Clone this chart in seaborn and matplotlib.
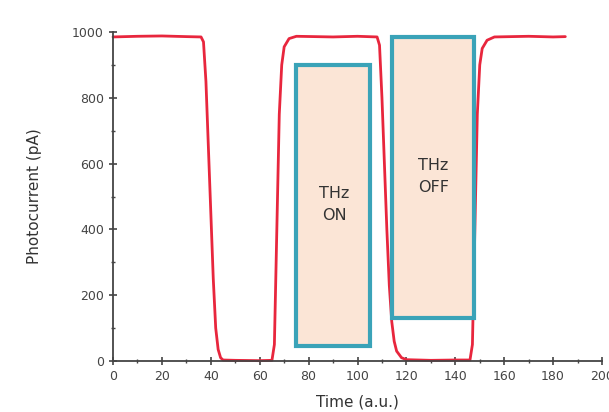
import matplotlib
matplotlib.use("Agg")
import matplotlib.pyplot as plt
import seaborn as sns
import pandas as pd
from matplotlib.patches import Rectangle
from matplotlib.ticker import MultipleLocator

# ---- data ----
time = [0, 10, 20, 30, 36, 37, 38, 39, 40, 41, 42, 43, 44, 45, 50, 60, 65,
        66, 67, 68, 69, 70, 72, 75, 90, 100, 108, 109, 110, 111, 112, 113,
        114, 115, 116, 118, 120, 130, 140, 146, 147, 148, 149, 150, 151, 153,
        156, 170, 180, 185]
current = [985, 987, 988, 986, 985, 970, 850, 650, 450, 250, 100, 35, 10, 3,
           2, 1, 2, 50, 400, 750, 900, 955, 980, 987, 985, 987, 985, 960, 800,
           600, 400, 230, 120, 60, 30, 10, 4, 2, 3, 3, 50, 400, 750, 900, 950,
           975, 985, 987, 985, 986]

box_labels = ["THz\nON", "THz\nOFF"]
box_x0 = [75, 114]
box_x1 = [105, 147.5]
box_y0 = [45, 130]
box_y1 = [900, 985]
label_x = [90.5, 131]
label_y = [475, 560]

x_ticks = [0, 20, 40, 60, 80, 100, 120, 140, 160, 180, 200]
y_ticks = [0, 200, 400, 600, 800, 1000]

sns.set_theme(style="ticks")
plt.rcParams['font.family'] = ['DejaVu Sans']

fig = plt.figure(figsize=(6.09, 4.12), dpi=100)
ax = fig.add_axes([0.1856, 0.1238, 0.8029, 0.7985])

df = pd.DataFrame({"Time": time, "Current": current})
sns.lineplot(data=df, x="Time", y="Current", ax=ax, color="#e8263d",
             linewidth=2, sort=False, zorder=2)

for x0, x1, y0, y1, lab, lx, ly in zip(box_x0, box_x1, box_y0, box_y1,
                                        box_labels, label_x, label_y):
    ax.add_patch(Rectangle((x0, y0), x1 - x0, y1 - y0, facecolor="#fbe5d6",
                           edgecolor="#3aa3b8", linewidth=3, zorder=3))
    ax.text(lx, ly, lab, ha="center", va="center", fontsize=11.5,
            color="#333333", zorder=4, linespacing=1.55)

ax.set_xlim(0, 200)
ax.set_ylim(0, 1000)
ax.set_xticks(x_ticks)
ax.set_yticks(y_ticks)
ax.xaxis.set_minor_locator(MultipleLocator(10))
ax.yaxis.set_minor_locator(MultipleLocator(100))
ax.tick_params(axis="both", which="major", direction="inout", length=6,
               width=1.2, labelsize=9, colors="#444444", labelcolor="#444444")
ax.tick_params(axis="both", which="minor", direction="inout", length=3,
               width=1, colors="#444444")
for s in ["top", "right"]:
    ax.spines[s].set_visible(False)
for s in ["left", "bottom"]:
    ax.spines[s].set_color("#444444")
    ax.spines[s].set_linewidth(1.3)

ax.set_xlabel("Time (a.u.)", fontsize=11, color="#333333", labelpad=8)
ax.set_ylabel("Photocurrent (pA)", fontsize=11, color="#333333", labelpad=22)
ax.lines[0].set_clip_on(False)

fig.savefig("out.png", dpi=100, facecolor="white")
